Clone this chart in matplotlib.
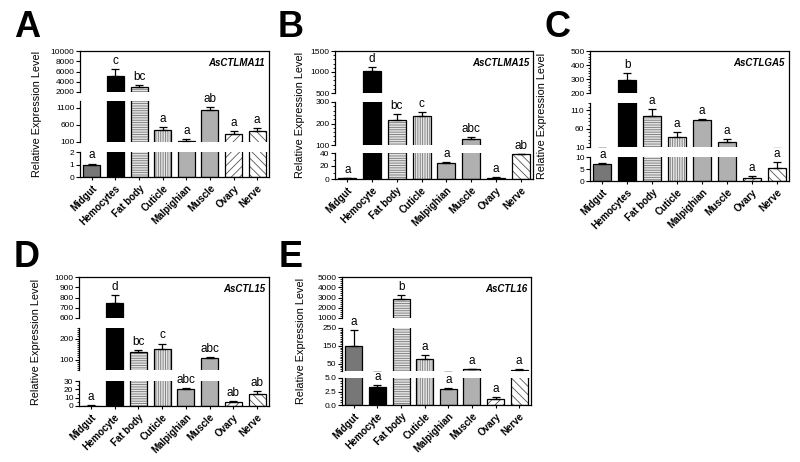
import numpy as np
import matplotlib
matplotlib.use('Agg')
import matplotlib.pyplot as plt
from matplotlib.ticker import FixedLocator, MultipleLocator, FormatStrFormatter

plt.rcParams['font.family'] = ['Liberation Sans', 'DejaVu Sans']
plt.rcParams['hatch.linewidth'] = 0.6

#* tissues
tissues_a = ['Midgut', 'Hemocytes', 'Fat body', 'Cuticle', 'Malpighian', 'Muscle', 'Ovary', 'Nerve']
tissues_b = ['Midgut', 'Hemocyte', 'Fat body', 'Cuticle', 'Malpighian', 'Muscle', 'Ovary', 'Nerve']

#* A: AsCTLMA11
vals_a = [1.0, 5200, 3000, 450, 130, 1050, 320, 430]
err_a = [0.08, 1200, 400, 100, 50, 80, 90, 90]
sig_a = ['a', 'c', 'bc', 'a', 'a', 'ab', 'a', 'a']

#* B: AsCTLMA15
vals_b = [1, 1030, 215, 235, 25, 130, 2, 38]
err_b = [0.3, 80, 30, 20, 1, 5, 1, 1]
sig_b = ['a', 'd', 'bc', 'c', 'a', 'abc', 'a', 'ab']

#* C: AsCTLGA5
vals_c = [7, 290, 95, 38, 84, 24, 1.2, 5.5]
err_c = [0.5, 55, 19, 12, 2, 8, 0.8, 2.4]
sig_c = ['a', 'b', 'a', 'a', 'a', 'a', 'a', 'a']

#* D: AsCTL15
vals_d = [0.5, 750, 135, 148, 21, 108, 4.5, 15]
err_d = [0.2, 70, 8, 28, 1, 3, 1, 2.5]
sig_d = ['a', 'd', 'bc', 'c', 'abc', 'abc', 'ab', 'ab']

#* E: AsCTL16
vals_e = [150, 3.3, 2900, 75, 2.9, 20, 1.1, 18]
err_e = [90, 0.4, 350, 25, 0.2, 3, 0.3, 3]
sig_e = ['a', 'a', 'b', 'a', 'a', 'a', 'a', 'a']

#* bar styles: (face, hatch, hatch colour)
styles = [('#777777', '', '#777777'),
          ('#000000', '', '#000000'),
          ('#e4e4e4', '-------', '#777777'),
          ('#e4e4e4', '|||||||', '#777777'),
          ('#b0b0b0', '', '#b0b0b0'),
          ('#b0b0b0', '', '#b0b0b0'),
          ('#ffffff', '////', '#555555'),
          ('#ffffff', '\\\\\\\\', '#555555')]

W, H = 800, 462

# panel layout in pixels: x0, x1, segments (bottom -> top) as (ylo, yhi, px_top, px_bot, ticks, minor, fmt)
panels = [
    dict(letter='A', name='AsCTLMA11', cats=tissues_a, vals=vals_a, err=err_a, sig=sig_a,
         x0=80, x1=269, lab_x=37, let_xy=(14, 37),
         segs=[(0, 2, 152, 177, [0, 1, 2], None, '%g'),
               (100, 1300, 101, 142, [100, 600, 1100], None, '%g'),
               (2000, 10000, 51, 92, [2000, 4000, 6000, 8000, 10000], None, '%g')]),
    dict(letter='B', name='AsCTLMA15', cats=tissues_b, vals=vals_b, err=err_b, sig=sig_b,
         x0=335, x1=533, lab_x=300, let_xy=(278, 37),
         segs=[(0, 40, 153, 179, [0, 20, 40], 10, '%g'),
               (100, 300, 102, 145, [100, 200, 300], 20, '%g'),
               (500, 1500, 51, 93, [500, 1000, 1500], 100, '%g')]),
    dict(letter='C', name='AsCTLGA5', cats=tissues_a, vals=vals_c, err=err_c, sig=sig_c,
         x0=590, x1=789, lab_x=542, let_xy=(544, 37),
         segs=[(0, 10, 157, 181, [0, 5, 10], None, '%g'),
               (10, 130, 103, 147, [10, 60, 110], 10, '%g'),
               (200, 500, 51, 93, [200, 300, 400, 500], 20, '%g')]),
    dict(letter='D', name='AsCTL15', cats=tissues_b, vals=vals_d, err=err_d, sig=sig_d,
         x0=79, x1=269, lab_x=36, let_xy=(14, 267),
         segs=[(0, 30, 381, 406, [0, 10, 20, 30], 5, '%g'),
               (50, 250, 328, 370, [100, 200], 10, '%g'),
               (600, 1000, 277, 318, [600, 700, 800, 900, 1000], None, '%g')]),
    dict(letter='E', name='AsCTL16', cats=tissues_b, vals=vals_e, err=err_e, sig=sig_e,
         x0=342, x1=531, lab_x=301, let_xy=(279, 267),
         segs=[(0, 5, 378, 405, [0, 2.5, 5.0], 0.5, '%.1f'),
               (10, 250, 328, 371, [50, 150, 250], 10, '%g'),
               (1000, 5000, 277, 318, [1000, 2000, 3000, 4000, 5000], 200, '%g')]),
]

fig = plt.figure(figsize=(W / 100, H / 100), dpi=100)


def rect(x0, x1, ytop, ybot):
    return [x0 / W, 1 - ybot / H, (x1 - x0) / W, (ybot - ytop) / H]


for p in panels:
    x = np.arange(len(p['cats']))
    vals = np.array(p['vals'])
    err = np.array(p['err'])
    tops = vals + err
    segs = p['segs']

    # frame: top + right line
    bg = fig.add_axes(rect(p['x0'], p['x1'], segs[-1][2], segs[0][3]))
    bg.set_xticks([])
    bg.set_yticks([])
    bg.patch.set_visible(False)
    for s in ['left', 'bottom']:
        bg.spines[s].set_visible(False)
    for s in ['top', 'right']:
        bg.spines[s].set_linewidth(0.9)
    bg.text(1 - 4 / (p['x1'] - p['x0']), 1 - 12 / (segs[0][3] - segs[-1][2]), p['name'],
            transform=bg.transAxes, ha='right', va='center', fontsize=7,
            fontweight='bold', fontstyle='italic')

    for k, (lo, hi, pt, pb, ticks, minor, fmt) in enumerate(segs):
        ax = fig.add_axes(rect(p['x0'], p['x1'], pt, pb))
        ax.patch.set_visible(False)
        bars = ax.bar(x, vals, width=0.72, color=[s[0] for s in styles],
                      edgecolor=[s[2] for s in styles], linewidth=0, zorder=2)
        for b, s in zip(bars, styles):
            b.set_hatch(s[1])
        ax.bar(x, vals, width=0.72, fill=False, edgecolor='black', linewidth=0.9, zorder=3)
        ax.errorbar(x, vals, yerr=[np.zeros_like(err), err], fmt='none', ecolor='black',
                    elinewidth=0.9, capsize=2.8, capthick=0.9, zorder=4)
        ax.set_xlim(-0.5, len(x) - 0.5)
        ax.set_ylim(lo, hi)
        ax.yaxis.set_major_locator(FixedLocator(ticks))
        ax.yaxis.set_major_formatter(FormatStrFormatter(fmt))
        if minor:
            ax.yaxis.set_minor_locator(MultipleLocator(minor))
        ax.tick_params(axis='y', which='major', direction='out', length=3, width=0.8,
                       labelsize=6, pad=1)
        ax.tick_params(axis='y', which='minor', direction='out', length=1.6, width=0.6)
        for s in ['top', 'right']:
            ax.spines[s].set_visible(False)
        ax.spines['left'].set_linewidth(0.9)
        if k == 0:
            ax.spines['bottom'].set_linewidth(0.9)
            ax.set_xticks(x)
            ax.set_xticklabels(p['cats'], rotation=45, ha='right', rotation_mode='anchor',
                               fontsize=7, fontweight='bold')
            ax.tick_params(axis='x', direction='out', length=2.5, width=0.8, pad=2)
        else:
            ax.spines['bottom'].set_visible(False)
            ax.set_xticks([])

        # significance letters in the segment holding the top of the error bar
        for i in range(len(x)):
            seg_i = max(j for j, sg in enumerate(segs) if sg[0] <= tops[i] or j == 0)
            if seg_i == k:
                ax.annotate(p['sig'][i], xy=(i, tops[i]), xytext=(0, 1.5),
                            textcoords='offset points', ha='center', va='bottom',
                            fontsize=8.5, annotation_clip=False, zorder=6)

    ymid = (segs[-1][2] + segs[0][3]) / 2
    fig.text(p['lab_x'] / W, 1 - ymid / H, 'Relative Expression Level', rotation=90,
             ha='center', va='center', fontsize=7.8)
    fig.text(p['let_xy'][0] / W, 1 - p['let_xy'][1] / H, p['letter'], ha='left',
             va='baseline', fontsize=26, fontweight='bold')

fig.savefig('out.png', dpi=100)
